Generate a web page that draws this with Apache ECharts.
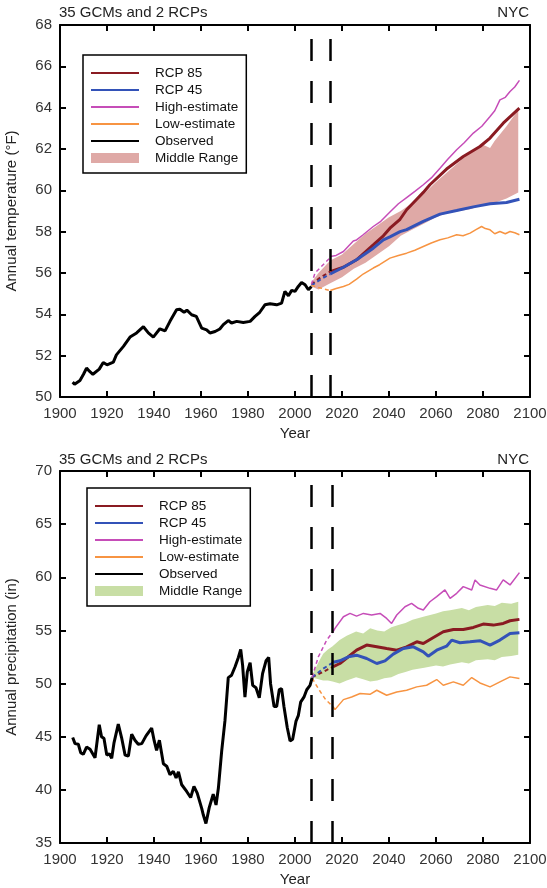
<!DOCTYPE html>
<html><head><meta charset="utf-8">
<script src="https://cdn.jsdelivr.net/npm/echarts@6/dist/echarts.min.js"></script>
<style>html,body{margin:0;padding:0;background:#fff}#c{width:547px;height:888px}</style>
</head><body><div id="c"></div>
<script>
// ---------- DATA ----------
var titleLeft = '35 GCMs and 2 RCPs';
var titleRight = 'NYC';
var legendNames = ['RCP 85','RCP 45','High-estimate','Low-estimate','Observed','Middle Range'];
var markYearsTemp = [2007, 2015];
var markYearsPrecip = [2007, 2016];

// Temperature (°F)
var tempObserved = [[1905.4,50.72],[1906.2,50.62],[1908.5,50.8],[1910,51.1],[1911.3,51.4],[1912.5,51.25],[1914,51.1],[1916.7,51.35],[1918.4,51.67],[1920,51.56],[1922.7,51.69],[1924,52.04],[1927,52.45],[1929.8,52.9],[1932.6,53.1],[1935.5,53.4],[1937.6,53.1],[1939.7,52.9],[1942.5,53.3],[1944.7,53.2],[1946.8,53.66],[1949.6,54.22],[1951,54.25],[1952.8,54.1],[1954,54.2],[1956,53.98],[1958,53.9],[1960.3,53.33],[1962.4,53.25],[1963.8,53.1],[1966,53.17],[1968,53.29],[1969.5,53.5],[1971.6,53.7],[1973,53.58],[1975.2,53.66],[1978,53.61],[1980.9,53.66],[1983,53.9],[1985,54.1],[1987.2,54.46],[1989.4,54.51],[1992.2,54.46],[1994.3,54.54],[1995.7,55.11],[1997.2,54.9],[1998.6,55.16],[2000,55.11],[2001.4,55.35],[2002.8,55.54],[2004.3,55.43],[2005.7,55.19],[2007,55.35]];
var tempRcp85Early = [[2007,55.45],[2011,55.8],[2015,56.07]];
var tempRcp45Early = [[2007,55.4],[2011,55.7],[2015,55.95]];
var tempHighEarly  = [[2007,55.45],[2008.5,56.0],[2015,56.75]];
var tempLowEarly   = [[2007,55.4],[2010,55.3],[2015,55.15]];
var tempRcp85 = [[2015,56.07],[2020.6,56.28],[2026.2,56.64],[2033.3,57.36],[2037.6,57.8],[2040.4,58.17],[2044.7,58.6],[2047.5,59.06],[2051.8,59.57],[2054.6,59.9],[2057.4,60.27],[2064.5,61.03],[2071.6,61.64],[2078.7,62.12],[2083,62.53],[2088.6,63.25],[2095.5,63.98]];
var tempRcp45 = [[2015,55.95],[2020.6,56.28],[2026.2,56.64],[2033.3,57.2],[2037.6,57.6],[2040.4,57.75],[2044.7,58.0],[2047.5,58.1],[2054.6,58.5],[2061.7,58.85],[2068.8,59.02],[2075.9,59.2],[2083,59.35],[2090,59.41],[2095.5,59.57]];
var tempHigh = [[2015,56.8],[2017.5,56.85],[2020.6,57.04],[2024.8,57.55],[2026.2,57.6],[2029,57.85],[2033.3,58.25],[2036.5,58.5],[2040.4,58.95],[2044,59.35],[2047.5,59.65],[2051,59.95],[2054.6,60.27],[2058,60.6],[2061.7,61.07],[2065,61.5],[2068.8,61.96],[2072,62.3],[2075.9,62.77],[2079.5,63.1],[2083,63.57],[2085,63.85],[2087.2,64.38],[2089.5,64.5],[2091.5,64.78],[2093.5,65.0],[2095.5,65.32]];
var tempLow = [[2015,55.15],[2017.5,55.25],[2020.6,55.35],[2023,55.45],[2026.2,55.7],[2029,55.95],[2033.3,56.24],[2036,56.4],[2040.4,56.72],[2044,56.85],[2047.5,56.96],[2051,57.1],[2054.6,57.28],[2058,57.45],[2061.7,57.61],[2065,57.7],[2068.8,57.85],[2071.5,57.8],[2074.5,57.93],[2077,58.1],[2079.4,58.25],[2081,58.15],[2083,58.09],[2085,57.9],[2087.2,58.01],[2089.5,57.9],[2091.5,58.01],[2093.5,57.95],[2095.5,57.85]];
var tempRangeYears = [2007,2010,2015,2020,2025,2030,2035,2040,2045,2050,2055,2060,2065,2070,2075,2080,2083,2085,2090,2095];
var tempRangeLow  = [55.35,55.2,55.5,55.8,56.2,56.5,56.9,57.3,57.8,58.1,58.4,58.7,58.9,59.0,59.1,59.3,59.35,59.4,59.6,59.9];
var tempRangeHigh = [55.55,56.0,56.6,56.9,57.4,57.9,58.3,58.7,59.0,59.4,59.85,60.4,60.9,61.4,61.9,62.2,62.05,62.4,63.1,63.9];

// Precipitation (in)
var precObserved = [[1905.4,44.92],[1906.4,44.35],[1907.8,44.29],[1908.8,43.5],[1909.9,43.34],[1911.3,44.03],[1912.8,43.81],[1914.9,43.02],[1916.7,46.13],[1917.7,44.98],[1918.7,44.86],[1919.9,43.27],[1921,43.4],[1922,42.96],[1923,44.45],[1924.8,46.19],[1926.2,44.92],[1927.7,43.27],[1929.1,43.18],[1930.5,45.24],[1931.9,44.67],[1933.3,44.29],[1934.8,44.35],[1936.6,45.08],[1939,45.81],[1940.1,44.6],[1941.1,43.72],[1942.3,44.67],[1944,42.45],[1945.4,42.23],[1946.8,41.43],[1948.2,41.75],[1949.4,41.12],[1950.4,41.69],[1951.8,40.48],[1953.9,39.85],[1955.6,39.28],[1957,40.33],[1958.4,39.69],[1960.3,38.26],[1961,37.63],[1962.1,36.84],[1963.5,38.33],[1965.2,39.6],[1966.4,38.58],[1967.4,40.17],[1968.8,43.65],[1970.2,46.51],[1971.6,50.56],[1973,50.78],[1974.5,51.58],[1975.9,52.46],[1976.9,53.22],[1977.7,51.74],[1978.7,48.72],[1979.7,51.1],[1980.9,51.96],[1982,49.83],[1983.4,49.61],[1984.8,48.66],[1986.2,50.94],[1987.7,52.15],[1988.8,52.46],[1989.6,49.99],[1991.1,47.84],[1992.2,47.84],[1993.3,49.42],[1994.3,49.52],[1995.3,47.84],[1996.7,45.87],[1997.9,44.6],[1999,44.76],[2000.4,46.44],[2001.4,46.98],[2002.4,48.25],[2003.8,48.72],[2005,49.42],[2006.4,49.83],[2007.3,50.55]];
var precRcp85Early = [[2007.3,50.6],[2012,51.1],[2016.3,51.6]];
var precRcp45Early = [[2007.3,50.6],[2012,51.4],[2016.3,52.0]];
var precHighEarly  = [[2007.3,50.6],[2009.9,52.5],[2013.5,54.1],[2016.3,54.9]];
var precLowEarly   = [[2007.3,50.5],[2010,49.5],[2013,48.5],[2016.3,47.8]];
var precRcp85 = [[2016.3,51.6],[2019.1,51.89],[2022.7,52.52],[2026.2,53.14],[2030.5,53.62],[2034.8,53.46],[2039,53.3],[2043.3,53.14],[2047.5,53.46],[2051.8,53.93],[2054.6,53.77],[2058.9,54.34],[2063.1,54.87],[2067.4,55.09],[2071.6,55.09],[2075.9,55.28],[2080.1,55.6],[2084.4,55.5],[2088.6,55.66],[2091.5,55.91],[2095.5,56.04]];
var precRcp45 = [[2016.3,52.0],[2019.1,52.14],[2022.7,52.52],[2026.2,52.67],[2030.5,52.36],[2034.8,51.89],[2038.3,52.14],[2041.8,52.77],[2046.1,53.3],[2050.4,53.46],[2054.6,52.99],[2056.7,52.58],[2060.3,53.14],[2064.5,53.52],[2066.7,54.09],[2070.2,53.84],[2074.5,53.93],[2078.7,54.03],[2083,53.62],[2087.2,54.09],[2091.5,54.72],[2095.5,54.78]];
var precHigh = [[2016.3,54.9],[2017,55.19],[2020.6,56.29],[2023.4,56.6],[2026.2,56.35],[2029.1,56.6],[2032.6,56.45],[2036.2,56.6],[2039,56.13],[2041.1,55.66],[2043.3,56.45],[2046.8,57.23],[2049.6,57.55],[2052.5,57.08],[2054.6,56.92],[2057.4,57.7],[2060.3,58.18],[2063.8,58.81],[2066,58.02],[2068.8,58.49],[2071.6,59.12],[2075.2,58.81],[2076.6,59.75],[2078.7,59.28],[2083,58.96],[2085.8,58.81],[2088.6,59.75],[2091.5,59.28],[2095.5,60.44]];
var precLow = [[2016.3,47.8],[2017,47.55],[2020.6,48.49],[2024.1,48.74],[2027.7,49.06],[2031.9,48.99],[2034.8,49.37],[2039,48.9],[2043.3,49.21],[2047.5,49.37],[2051.8,49.69],[2056,49.84],[2060.3,50.38],[2063.1,49.84],[2067.4,50.16],[2071.6,49.84],[2075.2,50.57],[2078.7,50.06],[2083,49.69],[2087.2,50.16],[2091.5,50.63],[2095.5,50.47]];
var precRangeYears = [2007,2010,2012,2014,2016,2019,2022,2026,2029,2032,2035,2038,2041,2044,2047,2050,2055,2060,2063,2066,2071,2074,2077,2082,2085,2088,2092,2095];
var precRangeLow  = [50.6,50.4,50.3,50.3,50.2,50.0,50.3,50.6,50.4,50.2,50.3,50.5,50.6,50.9,51.1,51.3,51.5,51.7,51.6,51.8,52.0,51.9,52.2,52.3,52.2,52.5,52.6,52.7];
var precRangeHigh = [50.7,52.0,52.8,53.2,53.5,54.1,54.5,54.9,54.7,55.2,55.0,54.9,55.3,55.5,55.7,56.0,56.3,56.6,56.8,56.9,57.1,56.9,57.2,57.4,57.3,57.6,57.5,57.7];

// ---------- STYLE ----------
var C = {r85:'#8a1b22', r45:'#3352b8', hi:'#c64db8', lo:'#f79442', obs:'#000000', fillT:'#dfa9a6', fillP:'#c8dea5'};
var FONT = 'Liberation Sans, Arial, sans-serif';

var grids = [
  {left:60, top:25, width:470, height:372, outerBoundsMode:'none', containLabel:false},
  {left:60, top:471, width:470, height:372, outerBoundsMode:'none', containLabel:false}
];

function xAxes(gi) {
  var base = {type:'value', gridIndex:gi, min:1900, max:2100, interval:20,
    axisLine:{lineStyle:{color:'#000', width:2}},
    axisTick:{inside:true, length:6, lineStyle:{color:'#000', width:2}},
    splitLine:{show:false}};
  return [
    Object.assign({}, base, {position:'bottom', name:'Year', nameLocation:'middle', nameGap:29,
      nameTextStyle:{fontFamily:FONT, fontSize:15, color:'#222'},
      axisLabel:{fontFamily:FONT, fontSize:15, color:'#333', margin:9, formatter:function(v){return String(v);}}}),
    Object.assign({}, base, {position:'top', axisLabel:{show:false}})
  ];
}
function yAxes(gi, min, max, iv, name) {
  var base = {type:'value', gridIndex:gi, min:min, max:max, interval:iv,
    axisLine:{lineStyle:{color:'#000', width:2}},
    axisTick:{inside:true, length:6, lineStyle:{color:'#000', width:2}},
    splitLine:{show:false}};
  return [
    Object.assign({}, base, {position:'left', name:name, nameLocation:'middle', nameGap:41,
      nameTextStyle:{fontFamily:FONT, fontSize:15, color:'#222'},
      axisLabel:{fontFamily:FONT, fontSize:15, color:'#333', margin:8}}),
    Object.assign({}, base, {position:'right', axisLabel:{show:false}})
  ];
}

function line(name, data, xi, color, w, z, dashed) {
  return {type:'line', name:name, xAxisIndex:xi, yAxisIndex:xi, data:data,
    showSymbol:false, symbol:'none', z:z||3, silent:true,
    itemStyle:{color:color},
    lineStyle:{color:color, width:w, type: dashed ? [4,3] : 'solid'}};
}
// Band between lower and upper bounds, drawn through the axes' scales
function band(name, years, lo, hi, xi, color) {
  var data = years.map(function(y,i){return [y, lo[i], hi[i]];});
  return {type:'custom', name:name, xAxisIndex:xi, yAxisIndex:xi, data:data, z:1, silent:true,
    itemStyle:{color:color},
    encode:{x:0, y:[1,2]},
    renderItem:function(params, api){
      if (params.dataIndex !== 0) return null;
      var top = [], bot = [];
      for (var i = 0; i < data.length; i++) {
        top.push(api.coord([data[i][0], data[i][2]]));
        bot.push(api.coord([data[i][0], data[i][1]]));
      }
      var pts = top.concat(bot.reverse());
      return {type:'polygon', shape:{points:pts}, style:{fill:color, stroke:'none'}};
    }};
}
function vlines(years) {
  return {silent:true, symbol:['none','none'], label:{show:false},
    lineStyle:{color:'#000', width:2.5, type:[22,20]},
    data: years.map(function(y){return {xAxis:y};})};
}

var series = [];
// top chart
series.push(band('Middle Range', tempRangeYears, tempRangeLow, tempRangeHigh, 0, C.fillT));
var obsT = line('Observed', tempObserved, 0, C.obs, 3, 4);
obsT.markLine = vlines(markYearsTemp);
series.push(obsT);
series.push(line('RCP 85 early', tempRcp85Early, 0, C.r85, 2, 3, true));
series.push(line('RCP 45 early', tempRcp45Early, 0, C.r45, 2, 3, true));
series.push(line('High early', tempHighEarly, 0, C.hi, 1.5, 3, true));
series.push(line('Low early', tempLowEarly, 0, C.lo, 1.5, 3, true));
series.push(line('High-estimate', tempHigh, 0, C.hi, 1.5, 3));
series.push(line('Low-estimate', tempLow, 0, C.lo, 1.5, 3));
series.push(line('RCP 85', tempRcp85, 0, C.r85, 3, 4));
series.push(line('RCP 45', tempRcp45, 0, C.r45, 3, 4));
// bottom chart
series.push(band('Middle Range', precRangeYears, precRangeLow, precRangeHigh, 2, C.fillP));
var obsP = line('Observed', precObserved, 2, C.obs, 3, 4);
obsP.markLine = vlines(markYearsPrecip);
series.push(obsP);
series.push(line('RCP 85 early', precRcp85Early, 2, C.r85, 2, 3, true));
series.push(line('RCP 45 early', precRcp45Early, 2, C.r45, 2, 3, true));
series.push(line('High early', precHighEarly, 2, C.hi, 1.5, 3, true));
series.push(line('Low early', precLowEarly, 2, C.lo, 1.5, 3, true));
series.push(line('High-estimate', precHigh, 2, C.hi, 1.5, 3));
series.push(line('Low-estimate', precLow, 2, C.lo, 1.5, 3));
series.push(line('RCP 85', precRcp85, 2, C.r85, 3, 4));
series.push(line('RCP 45', precRcp45, 2, C.r45, 3, 4));

function legendFor(left, top, fill) {
  var lineColors = [C.r85, C.r45, C.hi, C.lo, C.obs];
  var data = legendNames.map(function(n, i){
    if (i === 5) return {name:n, icon:'rect', itemStyle:{color:fill, borderWidth:0}};
    return {name:n, icon:'path://M0,4 L48,4 L48,6 L0,6 Z', itemStyle:{color:lineColors[i], borderWidth:0}};
  });
  return {orient:'vertical', left:left, top:top, data:data, selectedMode:false,
    itemWidth:48, itemHeight:10, itemGap:3,
    padding:[11, 8, 8, 8],
    borderColor:'#000', borderWidth:1.5, backgroundColor:'#fff',
    textStyle:{fontFamily:FONT, fontSize:13.5, color:'#111', padding:[0,0,0,11]}};
}

var option = {
  animation:false,
  backgroundColor:'#fff',
  grid: grids,
  xAxis: xAxes(0).concat(xAxes(1)),
  yAxis: yAxes(0, 50, 68, 2, 'Annual temperature (°F)').concat(yAxes(1, 35, 70, 5, 'Annual precipitation (in)')),
  title: [
    {text:titleLeft, left:59, top:5, padding:0, textStyle:{fontFamily:FONT, fontSize:15, fontWeight:'normal', color:'#222'}},
    {text:titleRight, right:18, top:5, padding:0, textStyle:{fontFamily:FONT, fontSize:15, fontWeight:'normal', color:'#222'}},
    {text:titleLeft, left:59, top:452, padding:0, textStyle:{fontFamily:FONT, fontSize:15, fontWeight:'normal', color:'#222'}},
    {text:titleRight, right:18, top:452, padding:0, textStyle:{fontFamily:FONT, fontSize:15, fontWeight:'normal', color:'#222'}}
  ],
  legend: [legendFor(83, 55, C.fillT), legendFor(87, 488, C.fillP)],
  series: series
};
var chart = echarts.init(document.getElementById('c'), null, {renderer:'canvas'});
chart.setOption(option);
</script></body></html>
